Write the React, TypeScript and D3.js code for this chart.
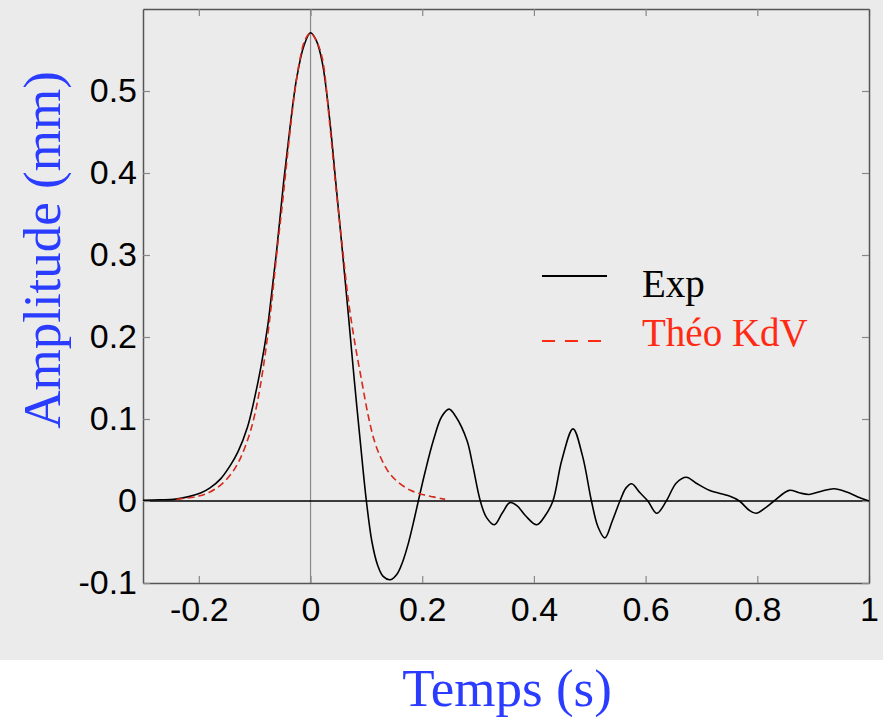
import React, { useEffect, useRef } from 'react';
import * as d3 from 'd3';

const W = 883;
const H = 718;
const margin = { top: 9, right: 14, bottom: 135, left: 143 };

// Exp : signal mesuré
const expTime = [
  -0.3, -0.27, -0.245, -0.22, -0.196, -0.18, -0.161, -0.145, -0.13, -0.113, -0.101, -0.089, -0.077, -0.071,
  -0.06, -0.048, -0.036, -0.025, -0.012, 0, 0.01, 0.021, 0.034, 0.045, 0.057, 0.068, 0.078,
  0.089, 0.1, 0.11, 0.12, 0.13, 0.143, 0.155, 0.165, 0.175, 0.184, 0.193, 0.205, 0.22, 0.235, 0.248, 0.26, 0.28,
  0.29, 0.304, 0.315, 0.329, 0.343, 0.357, 0.37, 0.385, 0.405, 0.42, 0.434, 0.45, 0.47, 0.487, 0.503,
  0.515, 0.527, 0.54, 0.554, 0.565, 0.575, 0.59, 0.604, 0.62, 0.637, 0.655, 0.673, 0.69, 0.714, 0.75,
  0.768, 0.785, 0.798, 0.815, 0.83, 0.857, 0.875, 0.893, 0.915, 0.9375, 0.96, 0.98, 1.0,
];
const expAmp = [
  0.001, 0.0015, 0.002, 0.005, 0.01, 0.016, 0.027, 0.042, 0.06, 0.09, 0.123, 0.163, 0.212, 0.245,
  0.31, 0.39, 0.46, 0.515, 0.555, 0.571, 0.562, 0.535, 0.467, 0.39, 0.305, 0.225, 0.15,
  0.073, 0.0, -0.05, -0.078, -0.092, -0.096, -0.089, -0.074, -0.052, -0.027, 0.0, 0.035, 0.074, 0.103, 0.112, 0.103, 0.074,
  0.045, 0.0, -0.02, -0.029, -0.015, -0.002, -0.006, -0.018, -0.029, -0.018, 0.0, 0.05, 0.088, 0.055, 0.0,
  -0.032, -0.045, -0.025, 0.0, 0.016, 0.021, 0.01, 0.0, -0.015, 0.0, 0.022, 0.029, 0.022, 0.013, 0.006,
  0.0, -0.011, -0.015, -0.008, 0.0, 0.013, 0.01, 0.008, 0.012, 0.015, 0.011, 0.005, 0.0,
];

// Théo KdV
const kdvTime = [
  -0.24, -0.2, -0.18, -0.16, -0.14, -0.125, -0.11, -0.1, -0.09, -0.08, -0.07, -0.06, -0.05, -0.04, -0.03, -0.02,
  -0.01, 0, 0.01, 0.021, 0.034, 0.045, 0.057, 0.065, 0.071, 0.08, 0.092, 0.103, 0.114, 0.125, 0.139, 0.155,
  0.179, 0.2, 0.22, 0.241,
];
const kdvAmp = [
  0.002, 0.006, 0.011, 0.02, 0.035, 0.053, 0.08, 0.105, 0.14, 0.185, 0.24, 0.305, 0.365, 0.43, 0.49, 0.535,
  0.562, 0.571, 0.562, 0.54, 0.462, 0.385, 0.31, 0.26, 0.229, 0.19, 0.145, 0.105, 0.074, 0.054, 0.036, 0.024,
  0.013, 0.008, 0.005, 0.002,
];

const xTicks = [-0.2, 0, 0.2, 0.4, 0.6, 0.8, 1];
const xTickLabels = ['-0.2', '0', '0.2', '0.4', '0.6', '0.8', '1'];
const yTicks = [-0.1, 0, 0.1, 0.2, 0.3, 0.4, 0.5];
const yTickLabels = ['-0.1', '0', '0.1', '0.2', '0.3', '0.4', '0.5'];

const legendNames = ['Exp', 'Théo KdV'];
const legendColors = ['#000000', '#ff2a14'];

const App = () => {
  const svgRef = useRef<SVGSVGElement>(null);

  const xScale = d3.scaleLinear().domain([-0.3, 1]).range([margin.left, W - margin.right]);
  const yScale = d3.scaleLinear().domain([-0.1, 0.6]).range([H - margin.bottom, margin.top]);

  const line = d3
    .line<[number, number]>()
    .x(d => xScale(d[0]))
    .y(d => yScale(d[1]))
    .curve(d3.curveCatmullRom.alpha(0.5));

  const expData: [number, number][] = expTime.map((t, i) => [t, expAmp[i]]);
  const kdvData: [number, number][] = kdvTime.map((t, i) => [t, kdvAmp[i]]);

  useEffect(() => {
    const svg = d3.select(svgRef.current);
    const bottom = H - margin.bottom;
    const right = W - margin.right;

    // axes (ticks vers l'intérieur)
    const xAxis = d3.axisBottom(xScale).tickValues(xTicks)
      .tickFormat((d, i) => xTickLabels[i]).tickSizeInner(-7).tickSizeOuter(0).tickPadding(14);
    const xTop = d3.axisTop(xScale).tickValues(xTicks).tickFormat(() => '').tickSizeInner(-7).tickSizeOuter(0);
    const yAxis = d3.axisLeft(yScale).tickValues(yTicks)
      .tickFormat((d, i) => yTickLabels[i]).tickSizeInner(-7).tickSizeOuter(0).tickPadding(6);
    const yRight = d3.axisRight(yScale).tickValues(yTicks).tickFormat(() => '').tickSizeInner(-7).tickSizeOuter(0);

    svg.select<SVGGElement>('.x-axis').attr('transform', `translate(0,${bottom})`).call(xAxis);
    svg.select<SVGGElement>('.x-top').attr('transform', `translate(0,${margin.top})`).call(xTop);
    svg.select<SVGGElement>('.y-axis').attr('transform', `translate(${margin.left},0)`).call(yAxis);
    svg.select<SVGGElement>('.y-right').attr('transform', `translate(${right},0)`).call(yRight);

    svg.selectAll('.axis path.domain').attr('stroke', '#555').attr('stroke-width', 1.5);
    svg.selectAll('.axis .tick line').attr('stroke', '#888').attr('stroke-width', 1.2);
    svg.selectAll('.axis .tick text')
      .attr('fill', '#000')
      .style('font-family', '"Liberation Sans", Arial, sans-serif')
      .style('font-size', '34px');
    svg.selectAll('.x-axis .tick text').attr('dy', '0.71em');
  }, []);

  return (
    <svg ref={svgRef} width={W} height={H} style={{ position: 'absolute', left: 0, top: 0 }}>
      <rect x={0} y={0} width={W} height={660} fill="#ebebeb" />

      {/* lignes de référence */}
      <line x1={xScale(0)} x2={xScale(0)} y1={margin.top} y2={H - margin.bottom} stroke="#8a8a8a" strokeWidth={1.2} />
      <line x1={margin.left} x2={W - margin.right} y1={yScale(0)} y2={yScale(0)} stroke="#000" strokeWidth={1.5} />

      <g className="axis x-axis" />
      <g className="axis x-top" />
      <g className="axis y-axis" />
      <g className="axis y-right" />

      <path d={line(expData) || ''} fill="none" stroke="#000" strokeWidth={1.6} />
      <path d={line(kdvData) || ''} fill="none" stroke="#d42a1c" strokeWidth={1.6} strokeDasharray="7 4" />

      {/* légende */}
      <line x1={542} x2={607} y1={276} y2={276} stroke={legendColors[0]} strokeWidth={2} />
      <line x1={542} x2={605} y1={341} y2={341} stroke={legendColors[1]} strokeWidth={2} strokeDasharray="13 10" />
      {legendNames.map((name, i) => (
        <text
          key={name}
          x={642}
          y={297 + i * 49}
          fill={legendColors[i]}
          style={{ fontFamily: '"Liberation Serif", "Times New Roman", serif', fontSize: 39 }}
        >
          {name}
        </text>
      ))}

      {/* titres */}
      <text
        transform={`translate(60,${250}) rotate(-90)`}
        textAnchor="middle"
        fill="#2a3cff"
        style={{ fontFamily: '"Liberation Serif", "Times New Roman", serif', fontSize: 53 }}
      >
        Amplitude (mm)
      </text>
      <text
        x={507}
        y={706}
        textAnchor="middle"
        fill="#2a3cff"
        style={{ fontFamily: '"Liberation Serif", "Times New Roman", serif', fontSize: 53 }}
      >
        Temps (s)
      </text>
    </svg>
  );
};

export default App;
